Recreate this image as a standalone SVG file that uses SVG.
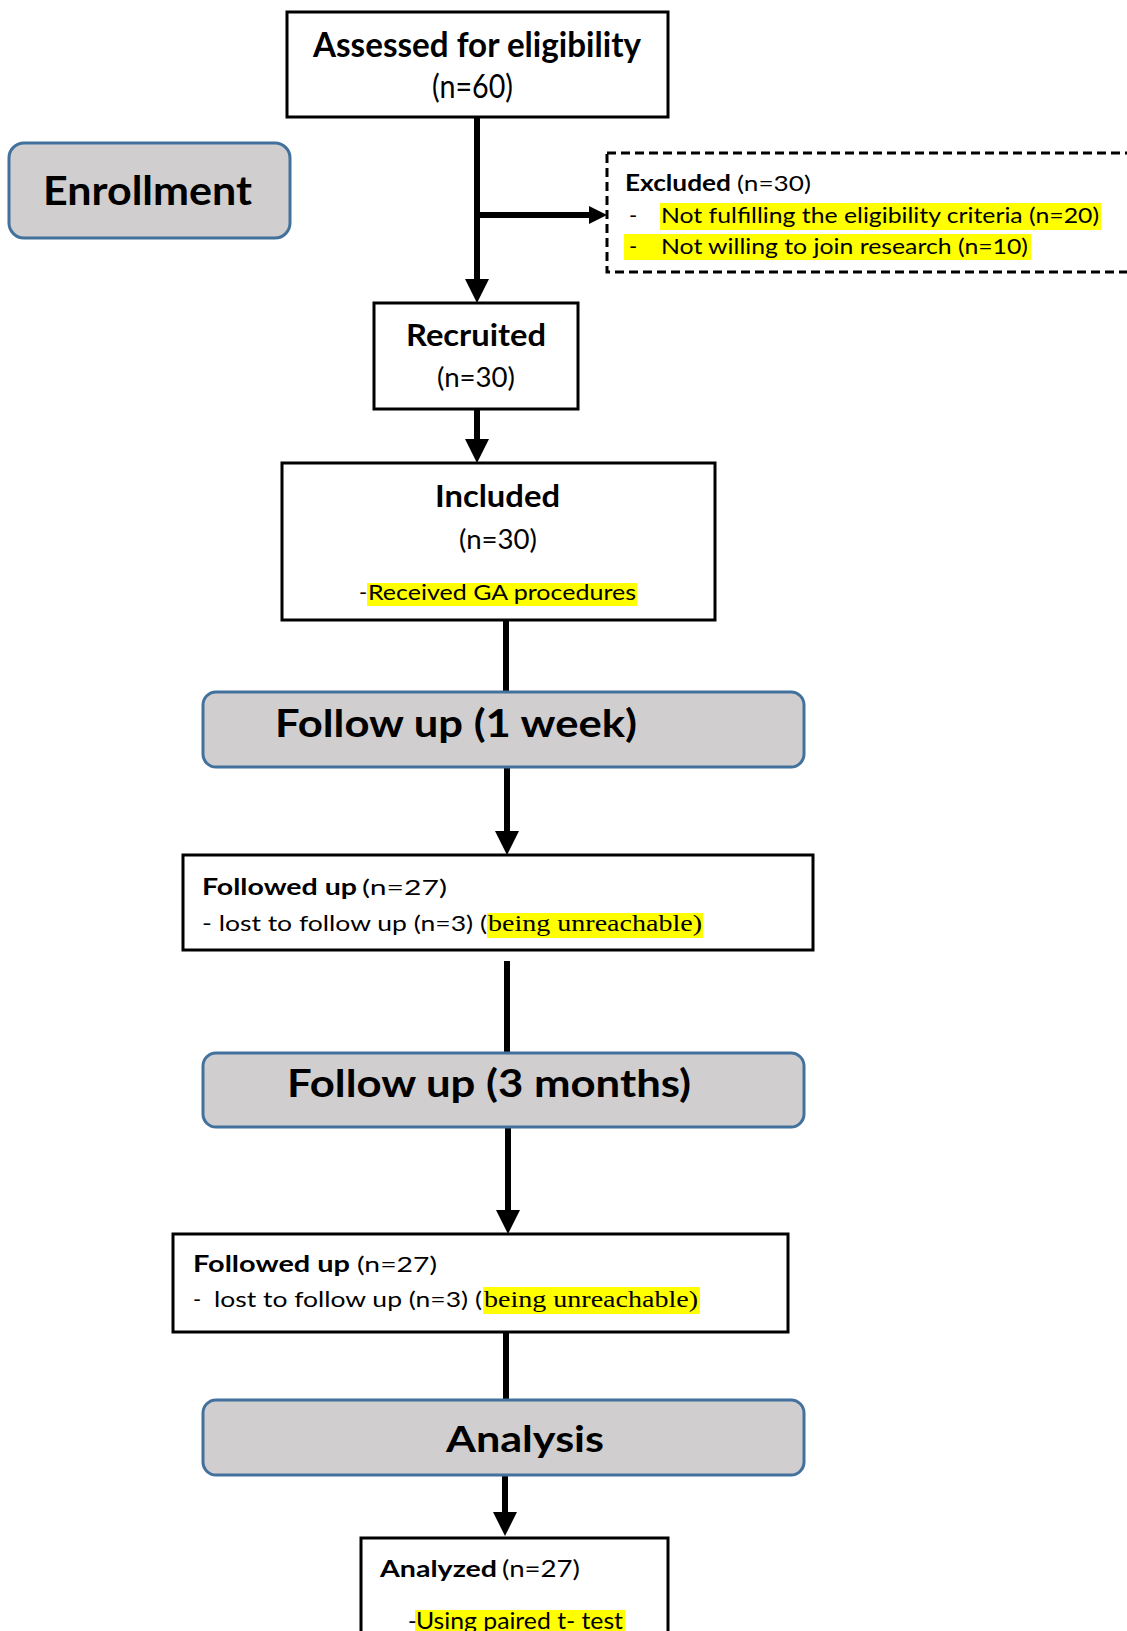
<svg xmlns="http://www.w3.org/2000/svg" width="1127" height="1631" viewBox="0 0 1127 1631">
<style>
.box{fill:#fff;stroke:#000;stroke-width:3}
.dash{fill:#fff;stroke:#000;stroke-width:3;stroke-dasharray:9 5}
.phase{fill:#d0cece;stroke:#41719c;stroke-width:3}
.conn{fill:none;stroke:#000;stroke-width:6}
.t{font-family:Lato,"Open Sans","Liberation Sans",sans-serif;fill:#000}
.b{font-weight:bold}
.s{font-family:"Liberation Serif","Times New Roman",serif;fill:#000}
.hl{fill:#ffff00}
</style>
<defs>
<marker id="arrow" markerUnits="userSpaceOnUse" markerWidth="26" markerHeight="26" refX="0" refY="12" orient="auto">
<path d="M0,0 L24,12 L0,24 z" fill="#000"/>
</marker>
<marker id="arrowS" markerUnits="userSpaceOnUse" markerWidth="20" markerHeight="20" refX="0" refY="9" orient="auto">
<path d="M0,0 L18,9 L0,18 z" fill="#000"/>
</marker>
</defs>
<rect width="1127" height="1631" fill="#fff"/>

<g id="connectors">
<path class="conn" d="M477,118 V279" marker-end="url(#arrow)"/>
<path class="conn" d="M477,215 H589" marker-end="url(#arrowS)"/>
<path class="conn" d="M477,409 V439" marker-end="url(#arrow)"/>
<path class="conn" d="M506,620 V692"/>
<path class="conn" d="M507,767 V831" marker-end="url(#arrow)"/>
<path class="conn" d="M507,961 V1053"/>
<path class="conn" d="M508,1127 V1210" marker-end="url(#arrow)"/>
<path class="conn" d="M506,1332 V1400"/>
<path class="conn" d="M505,1475 V1512" marker-end="url(#arrow)"/>
</g>

<g id="assessed">
<rect class="box" x="287" y="12" width="381" height="105"/>
<text class="t b" x="313" y="57" font-size="34" textLength="328" lengthAdjust="spacingAndGlyphs">Assessed for eligibility</text>
<text class="t" x="432" y="98" font-size="32" textLength="81" lengthAdjust="spacingAndGlyphs">(n=60)</text>
</g>

<g id="enrollment">
<rect class="phase" x="9" y="143" width="281" height="95" rx="15"/>
<text class="t b" x="43" y="205" font-size="40" textLength="209" lengthAdjust="spacingAndGlyphs">Enrollment</text>
</g>

<g id="excluded">
<rect class="dash" x="607" y="153" width="530" height="119"/>
<text class="t b" x="625" y="191" font-size="22" textLength="106" lengthAdjust="spacingAndGlyphs">Excluded</text>
<text class="t" x="737" y="191" font-size="22" textLength="74" lengthAdjust="spacingAndGlyphs">(n=30)</text>
<text class="t" x="629" y="223" font-size="22">-</text>
<rect class="hl" x="660" y="203" width="441" height="27"/>
<text class="t" x="661" y="223" font-size="22" textLength="438" lengthAdjust="spacingAndGlyphs">Not fulfilling the eligibility criteria (n=20)</text>
<rect class="hl" x="624" y="234" width="407" height="26"/>
<text class="t" x="629" y="254" font-size="22">-</text>
<text class="t" x="661" y="254" font-size="22" textLength="367" lengthAdjust="spacingAndGlyphs">Not willing to join research (n=10)</text>
</g>

<g id="recruited">
<rect class="box" x="374" y="303" width="204" height="106"/>
<text class="t b" x="406" y="346" font-size="29.5" textLength="140" lengthAdjust="spacingAndGlyphs">Recruited</text>
<text class="t" x="437" y="387" font-size="27" textLength="78" lengthAdjust="spacingAndGlyphs">(n=30)</text>
</g>

<g id="included">
<rect class="box" x="282" y="463" width="433" height="157"/>
<text class="t b" x="435" y="507" font-size="29.5" textLength="125" lengthAdjust="spacingAndGlyphs">Included</text>
<text class="t" x="459" y="549" font-size="27" textLength="78" lengthAdjust="spacingAndGlyphs">(n=30)</text>
<rect class="hl" x="367" y="583" width="270" height="23"/>
<text class="t" x="359" y="600" font-size="22">-</text>
<text class="t" x="368" y="600" font-size="22" textLength="268" lengthAdjust="spacingAndGlyphs">Received GA procedures</text>
</g>

<g id="followup-1week">
<rect class="phase" x="203" y="692" width="601" height="75" rx="13"/>
<text class="t b" x="275" y="737" font-size="38" textLength="362" lengthAdjust="spacingAndGlyphs">Follow up (1 week)</text>
</g>

<g id="followed-up-1">
<rect class="box" x="183" y="855" width="630" height="95"/>
<text class="t b" x="202" y="895" font-size="22" textLength="155" lengthAdjust="spacingAndGlyphs">Followed up</text>
<text class="t" x="362" y="895" font-size="22" textLength="85" lengthAdjust="spacingAndGlyphs">(n=27)</text>
<rect class="hl" x="487" y="913" width="216" height="25"/>
<text class="t" x="202" y="931" font-size="22" textLength="285" lengthAdjust="spacingAndGlyphs">- lost to follow up (n=3) (</text>
<text class="s" x="488" y="931" font-size="24" textLength="214" lengthAdjust="spacingAndGlyphs">being unreachable)</text>
</g>

<g id="followup-3months">
<rect class="phase" x="203" y="1053" width="601" height="74" rx="13"/>
<text class="t b" x="287" y="1097" font-size="38" textLength="404" lengthAdjust="spacingAndGlyphs">Follow up (3 months)</text>
</g>

<g id="followed-up-2">
<rect class="box" x="173" y="1234" width="615" height="98"/>
<text class="t b" x="193" y="1272" font-size="22" textLength="157" lengthAdjust="spacingAndGlyphs">Followed up</text>
<text class="t" x="357" y="1272" font-size="22" textLength="80" lengthAdjust="spacingAndGlyphs">(n=27)</text>
<text class="t" x="193" y="1307" font-size="22">-</text>
<rect class="hl" x="483" y="1287" width="217" height="27"/>
<text class="t" x="214" y="1307" font-size="22" textLength="268" lengthAdjust="spacingAndGlyphs">lost to follow up (n=3) (</text>
<text class="s" x="484" y="1307" font-size="24" textLength="214" lengthAdjust="spacingAndGlyphs">being unreachable)</text>
</g>

<g id="analysis">
<rect class="phase" x="203" y="1400" width="601" height="75" rx="13"/>
<text class="t b" x="446" y="1452" font-size="36" textLength="158" lengthAdjust="spacingAndGlyphs">Analysis</text>
</g>

<g id="analyzed">
<rect class="box" x="361" y="1538" width="307" height="110"/>
<text class="t b" x="380" y="1577" font-size="23" textLength="117" lengthAdjust="spacingAndGlyphs">Analyzed</text>
<text class="t" x="502" y="1577" font-size="23" textLength="78" lengthAdjust="spacingAndGlyphs">(n=27)</text>
<rect class="hl" x="415" y="1610" width="210" height="25"/>
<text class="t" x="408" y="1629" font-size="23">-</text>
<text class="t" x="416" y="1629" font-size="23" textLength="207" lengthAdjust="spacingAndGlyphs">Using paired t- test</text>
</g>
</svg>
